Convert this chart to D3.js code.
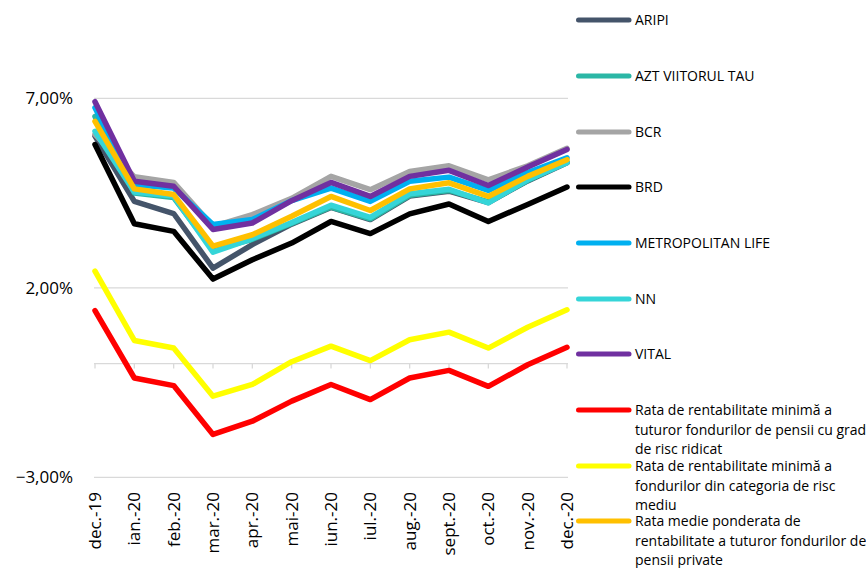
<!DOCTYPE html>
<html>
<head>
<meta charset="utf-8">
<script src="https://cdn.jsdelivr.net/npm/d3@7"></script>
<style>
  html, body { margin: 0; padding: 0; background: #fff; }
  svg { display: block; }
  text { font-family: "Open Sans", "Liberation Sans", sans-serif; fill: #000; }
</style>
</head>
<body>
<svg id="chart" width="866" height="568"></svg>
<script>
const months = ["dec.-19","ian.-20","feb.-20","mar.-20","apr.-20","mai-20","iun.-20","iul.-20","aug.-20","sept.-20","oct.-20","nov.-20","dec.-20"];
const yTicks = [-3, 2, 7];

const aripi  = [6.00, 4.28, 3.96, 2.52, 3.14, 3.68, 4.12, 3.80, 4.42, 4.55, 4.25, 4.82, 5.30];
const azt    = [6.52, 4.50, 4.38, 3.00, 3.28, 3.70, 4.13, 3.82, 4.44, 4.57, 4.27, 4.83, 5.32];
const bcr    = [6.05, 4.93, 4.78, 3.62, 3.93, 4.36, 4.94, 4.59, 5.07, 5.22, 4.85, 5.22, 5.68];
const brd    = [5.78, 3.69, 3.49, 2.23, 2.74, 3.18, 3.75, 3.43, 3.95, 4.21, 3.75, 4.20, 4.66];
const metro  = [6.75, 4.72, 4.63, 3.67, 3.80, 4.30, 4.63, 4.28, 4.81, 4.92, 4.57, 5.04, 5.43];
const nn     = [6.13, 4.53, 4.42, 2.94, 3.30, 3.72, 4.18, 3.86, 4.48, 4.60, 4.24, 4.85, 5.30];
const vital  = [6.91, 4.81, 4.68, 3.54, 3.71, 4.30, 4.78, 4.41, 4.94, 5.10, 4.70, 5.19, 5.65];
const minRidicat = [1.40, -0.38, -0.58, -1.87, -1.52, -0.99, -0.55, -0.95, -0.38, -0.18, -0.60, -0.03, 0.43];
const minMediu   = [2.44, 0.61, 0.41, -0.86, -0.55, 0.05, 0.46, 0.08, 0.63, 0.83, 0.41, 0.96, 1.42];
const medie      = [6.39, 4.61, 4.46, 3.10, 3.40, 3.89, 4.41, 4.04, 4.61, 4.77, 4.41, 4.94, 5.38];

const seriesNames = [
  "ARIPI", "AZT VIITORUL TAU", "BCR", "BRD", "METROPOLITAN LIFE", "NN", "VITAL",
  "Rata de rentabilitate minimă a tuturor fondurilor de pensii cu grad de risc ridicat",
  "Rata de rentabilitate minimă a fondurilor din categoria de risc mediu",
  "Rata medie ponderata de rentabilitate a tuturor fondurilor de pensii private"
];
const seriesValues = [aripi, azt, bcr, brd, metro, nn, vital, minRidicat, minMediu, medie];
const seriesColors = ["#44546A", "#2BB7A6", "#A5A5A5", "#000000", "#00B0F0", "#35D5D8", "#7030A0", "#FF0000", "#FFFF00", "#FFC000"];
const legendLines = [
  ["ARIPI"], ["AZT VIITORUL TAU"], ["BCR"], ["BRD"], ["METROPOLITAN LIFE"], ["NN"], ["VITAL"],
  ["Rata de rentabilitate minimă a", "tuturor fondurilor de pensii cu grad", "de risc ridicat"],
  ["Rata de rentabilitate minimă a", "fondurilor din categoria de risc", "mediu"],
  ["Rata medie ponderata de", "rentabilitate a tuturor fondurilor de", "pensii private"]
];

const svg = d3.select("#chart");
const x = d3.scalePoint().domain(months).range([95, 567]);
const y = d3.scaleLinear().domain([-3, 7]).range([477.3, 98.3]);

// gridlines
svg.append("g").selectAll("line").data(yTicks).join("line")
  .attr("x1", 94).attr("x2", 568)
  .attr("y1", d => y(d)).attr("y2", d => y(d))
  .attr("stroke", "#d9d9d9").attr("stroke-width", 1.3);

// y labels
svg.append("g").selectAll("text").data(yTicks).join("text")
  .attr("x", 73).attr("y", d => y(d)).attr("dy", "0.36em")
  .attr("text-anchor", "end").style("font-size", "17px")
  .text(d => d3.format(".2f")(d).replace(".", ",") + "%");

// x axis at zero
const xAxisG = svg.append("g").attr("transform", `translate(0,${y(0)})`);
xAxisG.append("line").attr("x1", 94).attr("x2", 568).attr("y1", 0).attr("y2", 0)
  .attr("stroke", "#d9d9d9").attr("stroke-width", 1.3);
xAxisG.selectAll("line.tick").data(months).join("line").attr("class", "tick")
  .attr("x1", d => x(d)).attr("x2", d => x(d)).attr("y1", 0).attr("y2", 5)
  .attr("stroke", "#d9d9d9").attr("stroke-width", 1.3);

// x labels (low position)
svg.append("g").selectAll("text").data(months).join("text")
  .attr("transform", d => `translate(${x(d)},492) rotate(-90)`)
  .attr("text-anchor", "end").attr("dy", "0.36em")
  .style("font-size", "17px")
  .text(d => d);

// lines
const line = d3.line().x((d, i) => x(months[i])).y(d => y(d));
svg.append("g").selectAll("path").data(seriesValues).join("path")
  .attr("d", d => line(d))
  .attr("fill", "none")
  .attr("stroke", (d, i) => seriesColors[i])
  .attr("stroke-width", 5.5)
  .attr("stroke-linejoin", "round")
  .attr("stroke-linecap", "round");

// legend
const legendY = [20, 76, 132, 187, 243, 299, 354, 410, 466, 521];
const lg = svg.append("g");
seriesNames.forEach((name, i) => {
  const g = lg.append("g").attr("transform", `translate(0,${legendY[i]})`);
  g.append("line").attr("x1", 578.5).attr("x2", 629).attr("y1", 0).attr("y2", 0)
    .attr("stroke", seriesColors[i]).attr("stroke-width", 5).attr("stroke-linecap", "round");
  legendLines[i].forEach((t, j) => {
    g.append("text").attr("x", 635).attr("y", j * 19.7).attr("dy", "0.36em")
      .style("font-size", "14px").text(t);
  });
});
</script>
</body>
</html>
